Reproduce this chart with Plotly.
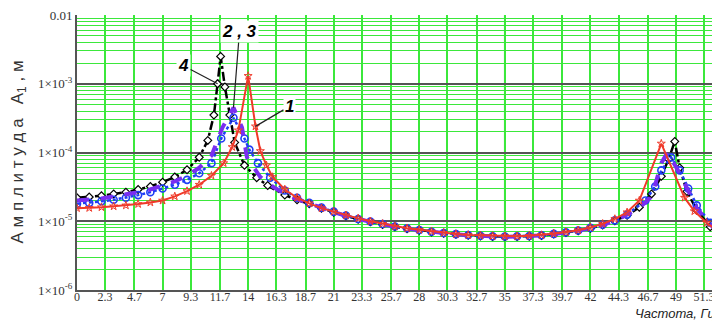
import plotly.graph_objects as go
import math

# ---- data ----
f1 = [0,1,2,3,4,5,6,7,8,9,10,11,12,12.7,13.2,14,14.6,15,15.5,16,17,18,19,20,21,22,23,24,25,26,27,28,29,30,31,32,33,34,35,36,37,38,39,40,41,42,43,44,45,46,47.8,49.7,50.5,51.5,52.5]
a1 = [1.55e-5,1.56e-5,1.6e-5,1.65e-5,1.7e-5,1.78e-5,1.88e-5,2.0e-5,2.3e-5,2.75e-5,3.4e-5,4.6e-5,7e-5,1.2e-4,2.1e-4,1.3e-3,2.4e-4,1.05e-4,6.5e-5,4.4e-5,2.9e-5,2.2e-5,1.82e-5,1.55e-5,1.38e-5,1.22e-5,1.1e-5,1.0e-5,9.2e-6,8.4e-6,7.9e-6,7.5e-6,7.1e-6,6.8e-6,6.5e-6,6.3e-6,6.2e-6,6.1e-6,6.05e-6,6.05e-6,6.15e-6,6.3e-6,6.6e-6,6.95e-6,7.4e-6,8.1e-6,9.2e-6,1.08e-5,1.35e-5,2.0e-5,1.35e-4,2.2e-5,1.4e-5,9.5e-6,7e-6]

f2 = [0,1,2,3,4,5,6,7,8,9,10,11,11.9,12.8,13.5,13.9,15,16,17,18,19,20,21,22,23,24,25,26,27,28,29,30,31,32,33,34,35,36,37,38,39,40,41,42,43,44,45,45.9,46.9,47.3,47.8,48.3,49.3,50,50.7,51.8,52.6]
a2 = [2.0e-5,2.05e-5,2.15e-5,2.3e-5,2.45e-5,2.65e-5,2.9e-5,3.3e-5,3.8e-5,4.6e-5,6e-5,9e-5,2.3e-4,4.5e-4,2.3e-4,8.5e-5,4.4e-5,3.2e-5,2.5e-5,2.1e-5,1.8e-5,1.55e-5,1.36e-5,1.2e-5,1.07e-5,9.8e-6,9e-6,8.3e-6,7.8e-6,7.4e-6,7e-6,6.7e-6,6.45e-6,6.25e-6,6.1e-6,6.0e-6,5.95e-6,6.0e-6,6.05e-6,6.2e-6,6.5e-6,6.85e-6,7.3e-6,7.9e-6,8.8e-6,1.02e-5,1.25e-5,1.5e-5,2.2e-5,3.4e-5,7e-5,1.0e-4,5e-5,2.7e-5,1.55e-5,8.9e-6,6.8e-6]

f3 = [0,1,2,3,4,5,6,7,8,9,10,11,11.8,12.8,13.7,14.1,14.8,15.8,17,18,19,20,21,22,23,24,25,26,27,28,29,30,31,32,33,34,35,36,37,38,39,40,41,42,43,44,45,46.5,47.3,47.8,48.6,49.3,50,50.7,51.8,52.6]
a3 = [1.8e-5,1.85e-5,1.95e-5,2.05e-5,2.2e-5,2.4e-5,2.65e-5,3.0e-5,3.4e-5,4.0e-5,5e-5,7e-5,1.6e-4,3.2e-4,1.6e-4,1.1e-4,7e-5,4.3e-5,2.8e-5,2.2e-5,1.85e-5,1.58e-5,1.38e-5,1.21e-5,1.08e-5,9.9e-6,9.1e-6,8.4e-6,7.9e-6,7.45e-6,7.05e-6,6.75e-6,6.5e-6,6.3e-6,6.15e-6,6.05e-6,6.0e-6,6.05e-6,6.1e-6,6.25e-6,6.55e-6,6.9e-6,7.35e-6,8.0e-6,8.9e-6,1.03e-5,1.25e-5,2.0e-5,3.2e-5,5.5e-5,8.5e-5,5.5e-5,3e-5,1.7e-5,9.5e-6,7e-6]

f4 = [0,1,2,3,4,5,6,7,8,9,10,10.7,11.2,11.5,11.75,12.1,12.5,12.9,13.7,14.7,15.6,17,18,19,20,21,22,23,24,25,26,27,28,29,30,31,32,33,34,35,36,37,38,39,40,41,42,43,44,45,46,47,47.8,48.4,48.9,49.3,49.9,50.7,51.8,52.6]
a4 = [2.2e-5,2.25e-5,2.35e-5,2.5e-5,2.65e-5,2.9e-5,3.2e-5,3.7e-5,4.4e-5,5.6e-5,8.5e-5,1.5e-4,3.5e-4,1.0e-3,2.5e-3,9e-4,3.5e-4,1.4e-4,6.5e-5,4.3e-5,3.3e-5,2.4e-5,2.05e-5,1.8e-5,1.55e-5,1.35e-5,1.2e-5,1.07e-5,9.8e-6,9e-6,8.3e-6,7.8e-6,7.4e-6,7e-6,6.7e-6,6.45e-6,6.25e-6,6.1e-6,6.0e-6,5.95e-6,6.0e-6,6.05e-6,6.2e-6,6.5e-6,6.85e-6,7.3e-6,7.9e-6,8.8e-6,1.02e-5,1.22e-5,1.6e-5,2.5e-5,4.5e-5,8e-5,1.45e-4,6e-5,2.7e-5,1.45e-5,8.3e-6,6.5e-6]

x_ticks = [0,2.3,4.7,7,9.3,11.7,14,16.3,18.7,21,23.3,25.7,28,30.3,32.7,35,37.3,39.7,42,44.3,46.7,49,51.3]
y_ticks = [1e-6,1e-5,1e-4,1e-3,1e-2]
y_tick_text = ["1×10<sup>-6</sup>","1×10<sup>-5</sup>","1×10<sup>-4</sup>","1×10<sup>-3</sup>","0.01"]
cursor_freq = 35

GREEN = "#3be83b"
fig = go.Figure()

fig.add_trace(go.Scatter(x=f4, y=a4, mode="lines+markers",
    line=dict(color="black", width=2.5, dash="dashdot"),
    marker=dict(symbol="diamond", size=6, color="white", line=dict(color="black", width=1.2))))
fig.add_trace(go.Scatter(x=f3, y=a3, mode="lines+markers",
    line=dict(color="#1f3df5", width=2.5, dash="dot"),
    marker=dict(symbol="circle-open", size=7, color="#1f3df5", line=dict(width=1.6))))
fig.add_trace(go.Scatter(x=f2, y=a2, mode="lines",
    line=dict(color="#7a2ef0", width=4, dash="dash")))
fig.add_trace(go.Scatter(x=f1, y=a1, mode="lines+markers",
    line=dict(color="#f03a2a", width=2),
    marker=dict(symbol="star-open", size=6, color="#f03a2a", line=dict(width=1))))

minor_vals = [k * 10**e for e in range(-6, -2) for k in range(2, 10)]

fig.add_shape(type="line", xref="x", yref="paper", x0=cursor_freq, x1=cursor_freq, y0=0, y1=1,
              line=dict(color="#c8c8d0", width=2), layer="below")

# callout labels
i1 = f1.index(14.6)
i2 = f2.index(12.8)
i4 = f4.index(11.5)
lab_font = dict(family="Liberation Sans", size=17, color="black", style="italic", weight="bold")
for (xx, yy, txt, ax, ay) in [
    (f1[i1], a1[i1], "1", 34, -20),
    (f2[i2], a2[i2], "2 , 3", 6, -76),
    (f4[i4], a4[i4], "4", -34, -18),
]:
    fig.add_annotation(x=xx, y=math.log10(yy), xref="x", yref="y", text=txt,
                       showarrow=True, arrowhead=0, arrowwidth=1.2, arrowcolor="#222",
                       ax=ax, ay=ay, font=lab_font, bgcolor="white", borderpad=1)

fig.add_annotation(xref="paper", yref="paper", x=0, y=0.5, xshift=-59, xanchor="center", yanchor="middle",
                   text="А м п л и т у д а   A<sub>1</sub> , м", textangle=-90, showarrow=False,
                   font=dict(family="Liberation Sans", size=17, color="#333"))
fig.add_annotation(xref="paper", yref="paper", x=1, y=-0.1164, xanchor="right", yanchor="bottom", xshift=-4,
                   text="Частота, Гц", showarrow=False, borderpad=0,
                   font=dict(family="Liberation Sans", size=13, color="#222", style="italic"))

# page body has an 8px margin, so the figure is sized to fit the 720x322 window
fig.update_layout(
    width=712, height=314,
    margin=dict(l=69, r=0, t=7, b=32),
    paper_bgcolor="white", plot_bgcolor="white",
    showlegend=False,
    xaxis=dict(range=[0, 52.6], tickvals=x_ticks, ticktext=[str(v) for v in x_ticks],
               showgrid=True, gridcolor=GREEN, gridwidth=1.5, zeroline=False,
               showline=True, linecolor="#555", linewidth=2, ticks="",
               ticklabeloverflow="allow", ticklabelstandoff=-5,
               tickfont=dict(family="Liberation Serif", size=12, color="#333")),
    yaxis=dict(type="log", range=[-6, -2], tickvals=y_ticks, ticktext=y_tick_text,
               showgrid=True, gridcolor="#555", gridwidth=1.5, zeroline=False,
               showline=True, linecolor="#555", linewidth=2, ticks="",
               ticklabeloverflow="allow",
               tickfont=dict(family="Liberation Serif", size=13, color="#333"),
               minor=dict(tickvals=minor_vals, showgrid=True, gridcolor=GREEN, gridwidth=1.2, ticks="")),
)

fig.write_html("out.html")
